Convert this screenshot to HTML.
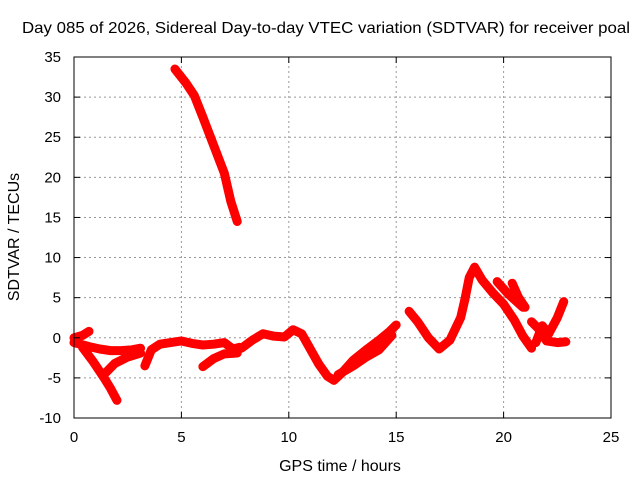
<!DOCTYPE html>
<html><head><meta charset="utf-8"><style>
body{margin:0;background:#fff}
svg{display:block;font-family:"Liberation Sans",sans-serif}
</style></head><body>
<svg id="chart" width="640" height="480" xmlns="http://www.w3.org/2000/svg">
<text x="22" y="33" font-size="16" textLength="608" lengthAdjust="spacingAndGlyphs">Day 085 of 2026, Sidereal Day-to-day VTEC variation (SDTVAR) for receiver poal</text>
<text x="340" y="471" font-size="16" text-anchor="middle">GPS time / hours</text>
<text transform="translate(19,237) rotate(-90)" font-size="16" text-anchor="middle">SDTVAR / TECUs</text>
<g id="grid"></g>
<g id="series"></g>
<rect x="74" y="57" width="537" height="361" fill="none" stroke="#000" stroke-width="1"/>
<g id="ticks"></g>
</svg>
<script>
const xTicks=[0,5,10,15,20,25];
const yTicks=[-10,-5,0,5,10,15,20,25,30,35];
const segSteep=[[4.7,33.5],[5.2,31.8],[5.6,30.2],[6,27.5],[6.5,24],[7,20.5],[7.3,17],[7.6,14.5]];
const segLowBand=[[0,-0.6],[0.3,-0.8],[0.7,-1.1],[1.2,-1.4],[1.7,-1.6],[2.2,-1.6],[2.7,-1.5],[3.1,-1.3]];
const segStart=[[0,0],[0.4,0.3],[0.7,0.8]];
const segDrop=[[0.4,-1.2],[0.9,-3],[1.4,-5],[1.7,-6.3],[2,-7.8]];
const segBranch=[[1.35,-4.7],[1.9,-3.2],[2.5,-2.4],[3.1,-1.9]];
const segMid=[[3.3,-3.5],[3.6,-1.5],[4,-0.8],[4.5,-0.6],[5,-0.4],[5.5,-0.7],[6,-0.9],[6.5,-0.8],[7,-0.6],[7.4,-1.4],[7.7,-1.2]];
const segMidLow=[[6,-3.6],[6.5,-2.6],[7,-2],[7.6,-1.9]];
const segMain=[[7.8,-1.3],[8.3,-0.3],[8.8,0.5],[9.3,0.2],[9.8,0.1],[10.2,1],[10.6,0.5],[11,-1.4],[11.4,-3.3],[11.8,-4.8],[12.1,-5.3],[12.5,-4.3],[13,-2.8],[13.6,-1.5],[14.2,-0.3],[14.7,0.8],[15,1.6]];
const segMain2=[[12.3,-4.6],[13,-3.5],[13.6,-2.4],[14.2,-1.5],[14.8,0.3]];
const segVee=[[15.6,3.3],[16,2],[16.5,0],[17,-1.4],[17.5,-0.3],[18,2.5],[18.2,4.8]];
const segPeak=[[18.2,4.8],[18.4,7.5],[18.65,8.8],[19,7.2],[19.5,5.6],[20,4.2],[20.5,2.2],[20.9,0.2],[21.3,-1.3]];
const segStrandA=[[19.7,7],[20.2,5.5],[20.9,3.8]];
const segStrandB=[[20.4,6.8],[20.7,5],[21,3.8]];
const segRight=[[21.5,-0.6],[21.8,1.5],[22.1,0.5],[22.5,2.5],[22.8,4.5]];
const segRightLow=[[21.3,2],[21.6,1.2],[22,-0.4],[22.5,-0.6],[22.9,-0.5]];
const segments=[segSteep,segLowBand,segStart,segDrop,segBranch,segMid,segMidLow,segMain,segMain2,segVee,segPeak,segStrandA,segStrandB,segRight,segRightLow];

const X0=74,X1=611,Y0=418,Y1=57;
const xs=v=>X0+(v-0)/(25-0)*(X1-X0);
const ys=v=>Y0-(v+10)/(45)*(Y0-Y1);
const NS="http://www.w3.org/2000/svg";
const grid=document.getElementById('grid'),ticks=document.getElementById('ticks'),series=document.getElementById('series');
function mk(t,a,p){const e=document.createElementNS(NS,t);for(const k in a)e.setAttribute(k,a[k]);p.appendChild(e);return e;}
xTicks.forEach(v=>{const x=xs(v);
 if(v>0&&v<25){const g=mk('line',{x1:x,x2:x,y1:Y0,y2:Y1,stroke:'#999','stroke-dasharray':'2,3'},grid);
 
 }
 const t=mk('text',{x:x,y:Y0+24,'font-size':15,'text-anchor':'middle'},ticks);t.textContent=v;
 
 
 mk('line',{x1:x,x2:x,y1:Y0,y2:Y0-6,stroke:'#000'},ticks);mk('line',{x1:x,x2:x,y1:Y1,y2:Y1+6,stroke:'#000'},ticks);});
yTicks.forEach(v=>{const y=ys(v);
 if(v>-10&&v<35){const g=mk('line',{x1:X0,x2:X1,y1:y,y2:y,stroke:'#999','stroke-dasharray':'2,3'},grid);
 
 }
 const t=mk('text',{x:X0-13,y:y+5,'font-size':15,'text-anchor':'end'},ticks);t.textContent=v;
 
 
 mk('line',{x1:X0,x2:X0+6,y1:y,y2:y,stroke:'#000'},ticks);mk('line',{x1:X1,x2:X1-6,y1:y,y2:y,stroke:'#000'},ticks);});
segments.forEach(s=>{const p=mk('polyline',{points:s.map(d=>xs(d[0])+','+ys(d[1])).join(' '),fill:'none',stroke:'#f00','stroke-width':9,'stroke-linejoin':'round','stroke-linecap':'round'},series);
 
 });
</script>
</body></html>
